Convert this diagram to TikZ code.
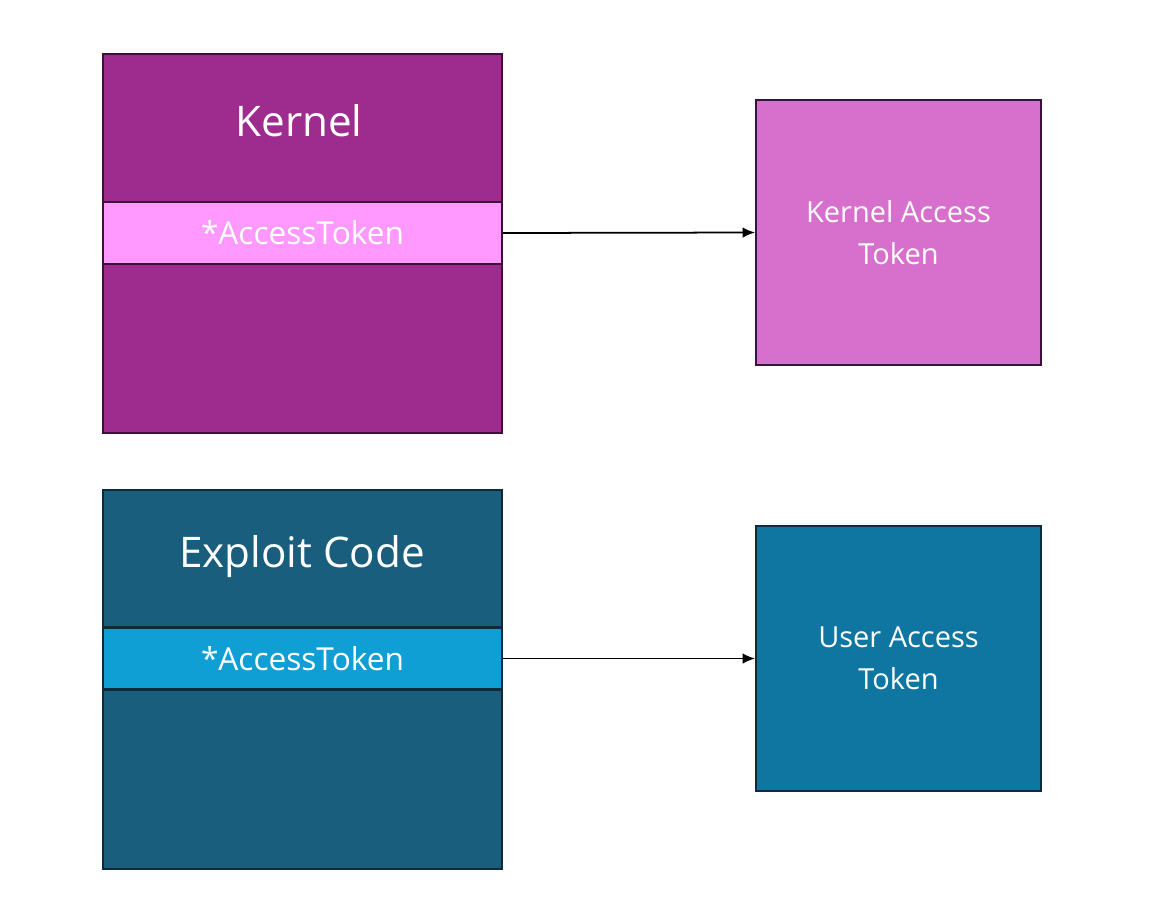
\documentclass[tikz,border=0pt]{standalone}
\usepackage{fontspec}
\setmainfont{Open Sans}
\usetikzlibrary{arrows.meta}
\definecolor{kbg}{HTML}{9E2B8E}
\definecolor{kstripe}{HTML}{FF99FF}
\definecolor{kright}{HTML}{D670CC}
\definecolor{kline}{HTML}{3C1038}
\definecolor{ebg}{HTML}{1A5E7E}
\definecolor{estripe}{HTML}{109FD4}
\definecolor{eright}{HTML}{0E76A0}
\definecolor{eline}{HTML}{0E2B3C}
\tikzset{
  bigbox/.style={draw, line width=1.2pt, minimum width=7.98cm, minimum height=7.58cm, inner sep=0pt, outer sep=0pt},
  stripebox/.style={draw, line width=1.2pt, minimum width=7.98cm, minimum height=1.24cm, inner sep=0pt, text=white, font=\fontsize{18}{20}\selectfont},
  tokbox/.style={draw, line width=1.2pt, minimum width=5.7cm, minimum height=5.3cm, inner sep=0pt, text=white, align=center, font=\fontsize{16.5}{24}\selectfont},
  title/.style={text=white, font=\fontsize{24}{28}\selectfont},
  conn/.style={-{Latex[length=7pt,width=6pt]}, line width=1pt}
}
\begin{document}
\begin{tikzpicture}[x=0.02cm,y=-0.02cm]
\useasboundingbox (0,0) rectangle (1149,920);
% kernel
\node[bigbox, fill=kbg, draw=kline] (kern) at (302.5,243.5) {};
\node[title] (kt) at (299,121) {Kernel};
\node[stripebox, fill=kstripe, draw=kline] (kst) at (302.5,233) {*AccessToken};
\node[tokbox, fill=kright, draw=kline] (ktok) at (898.5,232.5) {Kernel Access\\Token};
\draw[conn] (kst.east) -- (ktok.west);
% exploit
\node[bigbox, fill=ebg, draw=eline] (expl) at (302.5,679.5) {};
\node[title] (et) at (302,557) {Exploit Code};
\node[stripebox, fill=estripe, draw=eline] (est) at (302.5,658.5) {*AccessToken};
\node[tokbox, fill=eright, draw=eline] (etok) at (898.5,658.5) {User Access\\Token};
\draw[conn] (est.east) -- (etok.west);
\end{tikzpicture}
\end{document}
